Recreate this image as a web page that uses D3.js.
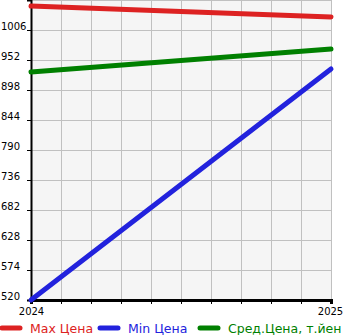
<!DOCTYPE html>
<html><head><meta charset="utf-8">
<script src="https://cdn.jsdelivr.net/npm/d3@7"></script>
<style>body{margin:0;background:#fff}svg{display:block}text{font-family:"DejaVu Sans",sans-serif}</style>
</head><body>
<script>
const years = [2024, 2025];
const maxPrice = [1049.2, 1029.4];
const minPrice = [520, 935.8];
const avgPrice = [930.4, 971.8];
const yTicks = [520, 574, 628, 682, 736, 790, 844, 898, 952, 1006];
const seriesNames = ["Мах Цена", "Min Цена", "Сред.Цена, т.йен"];
const seriesColors = ["#dd2222", "#2222dd", "#008000"];

const W = 345, H = 335;
const L = 31, R = 331, T = 0, B = 300;
const svg = d3.select("body").append("svg").attr("width", W).attr("height", H);
const x = d3.scaleLinear().domain([2024, 2025]).range([L, R]);
const y = d3.scaleLinear().domain([520, 1060]).range([B, T]);

svg.append("rect").attr("x", L).attr("y", T).attr("width", R - L).attr("height", B - T).attr("fill", "#f5f5f5");
const xg = d3.range(0, 11).map(i => 2024 + i / 10);
svg.append("g").selectAll("line").data(xg).join("line")
  .attr("x1", d => x(d)).attr("x2", d => x(d)).attr("y1", T).attr("y2", B)
  .attr("stroke", "#c0c0c0").attr("stroke-width", 1).attr("shape-rendering", "crispEdges");
svg.append("g").selectAll("line").data(yTicks.concat([1060])).join("line")
  .attr("x1", L).attr("x2", R).attr("y1", d => y(d)).attr("y2", d => y(d))
  .attr("stroke", "#c0c0c0").attr("stroke-width", 1).attr("shape-rendering", "crispEdges");

// axes
const yAxis = svg.append("g").attr("transform", `translate(${L},0)`)
  .call(d3.axisLeft(y).tickValues(yTicks).tickSize(4).tickFormat(d3.format("d")));
yAxis.select(".domain").attr("stroke", "#000").attr("stroke-width", 2);
yAxis.selectAll(".tick text").attr("text-anchor", "start").attr("x", -L + 1).attr("dy", "-0.1em")
  .attr("font-size", 10).attr("fill", "#000").attr("font-family", "DejaVu Sans");
const xAxis = svg.append("g").attr("transform", `translate(0,${B})`)
  .call(d3.axisBottom(x).tickValues(xg).tickSize(4).tickFormat(d => (Math.abs(d - 2024) < 1e-6 || Math.abs(d - 2025) < 1e-6) ? d3.format("d")(d) : ""));
xAxis.select(".domain").attr("stroke", "#000").attr("stroke-width", 3);
xAxis.selectAll(".tick text").attr("font-size", 10).attr("fill", "#000").attr("y", 8).attr("font-family", "DejaVu Sans");
xAxis.selectAll(".tick").filter(d => Math.abs(d - 2025) < 1e-6).select("text").attr("dx", -1);

const data = [maxPrice, minPrice, avgPrice];
const line = d3.line().x((d, i) => x(years[i])).y(d => y(d));
svg.append("g").selectAll("path").data(data).join("path")
  .attr("d", line).attr("fill", "none")
  .attr("stroke", (d, i) => seriesColors[i]).attr("stroke-width", 5).attr("stroke-linecap", "round");

// legend
const lx = [0, 98, 198];
const lg = svg.append("g").selectAll("g").data(seriesNames).join("g")
  .attr("transform", (d, i) => `translate(${lx[i]},328)`);
lg.append("line").attr("x1", 2).attr("x2", 20).attr("y1", 0).attr("y2", 0)
  .attr("stroke", (d, i) => seriesColors[i]).attr("stroke-width", 5).attr("stroke-linecap", "round");
lg.append("text").attr("x", 30).attr("y", 4.5).attr("font-size", 12.5)
  .attr("fill", (d, i) => seriesColors[i]).text(d => d);
</script>
</body></html>
